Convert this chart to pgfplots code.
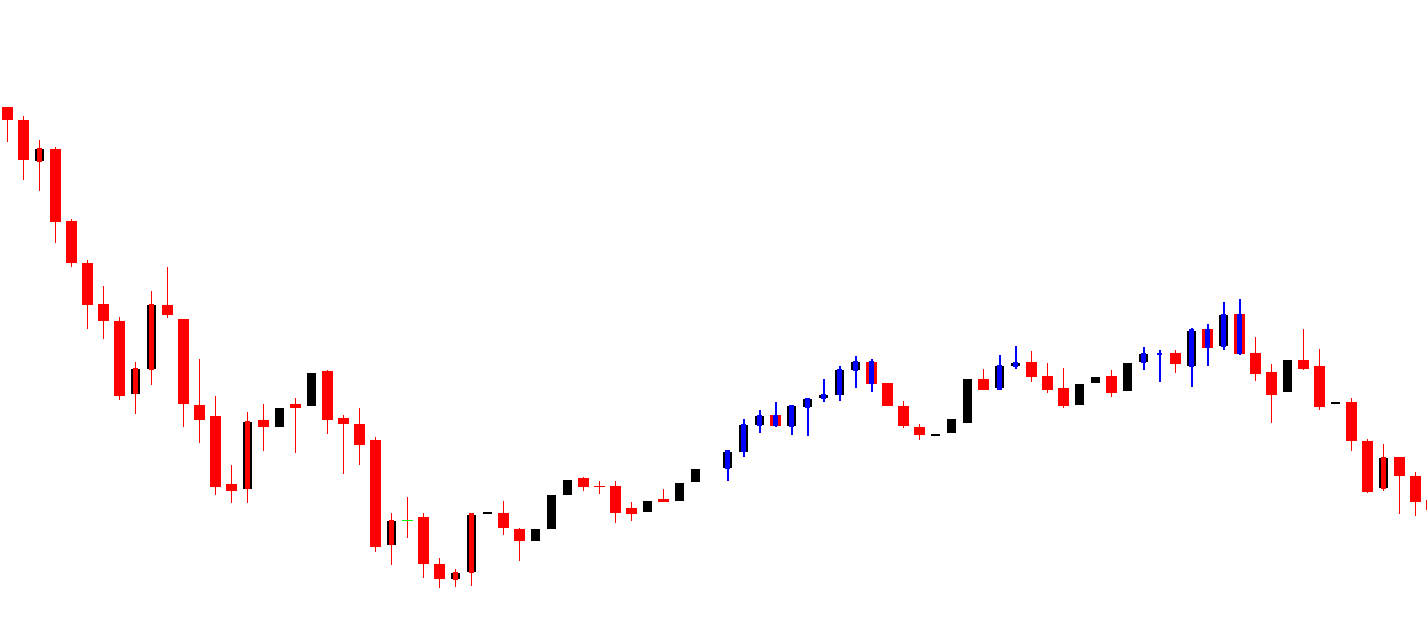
\documentclass[border=0pt]{standalone}
\usepackage{pgfplots}
\usepackage{pgfplotstable}
\pgfplotsset{compat=1.18}
\definecolor{cred}{RGB}{255,0,0}
\definecolor{cblue}{RGB}{0,0,255}
\definecolor{cgreen}{RGB}{0,255,0}
% i = candle index, lo/hi = top/bottom of body or wick (pixel rows, downwards)
\pgfplotstableread{
i lo hi
0 107 119.7
1 120 159.7
3 149 221.7
4 221 262.7
5 263 304.7
6 304 320.7
7 321 395.7
10 305 314.7
11 319 404.3
12 405 419.7
13 416 486.7
14 484 490.7
16 420 426.7
18 404 407.7
20 371 419.7
21 418 423.7
22 424 444.7
23 440 546.7
26 517 563.7
27 564 578.7
31 513 527.7
32 529 540.7
36 478 486.7
37 485.5 486.7
38 486 512.7
39 508 513.7
41 499 501.7
48 415 425.7
54 362 383.7
55 383 405.7
56 406 425.7
57 427 434.7
61 379 389.7
64 362 376.7
65 376 389.7
66 388 405.7
69 376 392.7
73 353 363.7
75 329 347.7
77 314 353.7
78 353 373.7
79 372 394.7
81 360 368.7
82 366 406.7
84 402 440.7
85 441 491.7
87 457 475.7
88 476 501.7
89 500 510
}\redbody
\pgfplotstableread{
i lo hi
2 149 161
8 369 394
9 305 369
15 421.7 488.7
17 408 426.7
19 373 405.7
24 521 544.7
28 573 579
29 515 572.3
30 512 514
33 529 540.7
34 495 528.7
35 480 494.7
40 501 511.7
42 483 500.7
43 469 481.7
45 451.7 467.7
46 425 451.7
47 416 425
49 406 426
50 399 406.7
51 395 397.7
52 370 395
53 362 369.7
58 434 435.7
59 419 432.7
60 379 422.7
62 366 387.7
63 363 365.7
67 384 404.7
68 377 382.7
70 363 390.7
71 354 361.7
74 331 366
76 315 345.7
80 360 391.7
83 402 403.7
86 458 487.7
}\blackbody
\pgfplotstableread{
i lo hi
0 107 141.7
1 116 179.7
2 140 190.7
3 147 242.7
4 219 266.7
5 260 328.7
6 286 338.7
7 317 399.7
8 362 413.7
9 291 384.7
10 267 317.7
11 319 426.7
12 359 442.7
13 396 494.7
14 465 502.7
15 412 502.7
16 404 450.7
18 398 452.7
20 370 433.7
21 415 473.7
22 408 464.7
23 437 551.7
24 513 564.7
25 497 537.7
26 513 578
27 558 587.7
28 569 586.7
29 513 585.7
31 501 534.7
32 528 560.7
36 477 490.7
37 481 493.7
38 481 522.7
39 502 520.7
41 489 501.7
56 401 427.7
57 424 439.7
61 369 389.7
64 351 381.7
65 363 392.7
66 368 407.7
69 370 396.7
73 350 372.7
78 337 380.7
79 364 422.7
81 329 369.7
82 349 409.7
84 398 450.7
85 439 492.7
86 444 490.7
87 457 513.7
88 472 515.7
}\redwick
\pgfplotstableread{
i lo hi
2 148 161.7
8 368 394.3
9 303.7 369.7
15 420.7 489.3
24 520 545.3
28 571.7 579.7
29 513.3 572.7
86 457 488.7
}\rednarrow
\pgfplotstableread{
i lo hi
45 450 480.7
46 419 456.7
47 410 432.7
48 402 426.7
49 405 434.7
50 398 435.7
51 379 401.7
52 366 400.7
53 356 387.7
54 359 391.7
62 355 389.7
63 346 369
71 347 369.7
72 350 381.7
74 328 386.7
75 324 365.7
76 302 349.7
77 299 354.7
}\bluewick
\pgfplotstableread{
i lo hi
45 450.3 468.7
46 423.7 452.3
47 415 425.7
48 415 425.7
49 405 427
50 398 407.7
51 394 398.7
52 369 395.3
53 361 370.7
54 361 383.7
62 365 389.7
63 362 366.7
71 353 362.7
72 353 354.5
74 329 366.7
75 329 347.7
76 314 346.7
77 314 353.7
}\bluenarrow
\pgfplotstableread{
i lo hi
25 520 521
}\greendoji
\pgfplotsset{
  candle/.style 2 args={draw=none, mark=none, forget plot,
    error bars/.cd, y dir=plus, y explicit, error mark=none,
    error bar style={draw=#1, line width=#2, line cap=butt}},
}
\newcommand{\candles}[3]{\addplot[candle={#2}{#3}] table[x=i, y=lo, y error plus expr=\thisrow{hi}-\thisrow{lo}] {#1};}
\begin{document}
\begin{tikzpicture}
\begin{axis}[
  width=713.5pt, height=316pt, scale only axis, hide axis,
  xmin=-0.46875, xmax=88.71875,
  ymin=0, ymax=632, y dir=reverse,
  clip=true,
]
\candles{\redbody}{cred}{5.5pt}
\candles{\blackbody}{black}{4.5pt}
\candles{\redwick}{cred}{0.7pt}
\candles{\bluewick}{cblue}{1pt}
\candles{\rednarrow}{cred}{2.5pt}
\candles{\bluenarrow}{cblue}{2.5pt}
\candles{\greendoji}{cgreen}{5.5pt}
\coordinate (ll) at (rel axis cs:0,0);
\coordinate (ur) at (rel axis cs:1,1);
\end{axis}
\pgfresetboundingbox
\path (ll) rectangle (ur);
\end{tikzpicture}
\end{document}
